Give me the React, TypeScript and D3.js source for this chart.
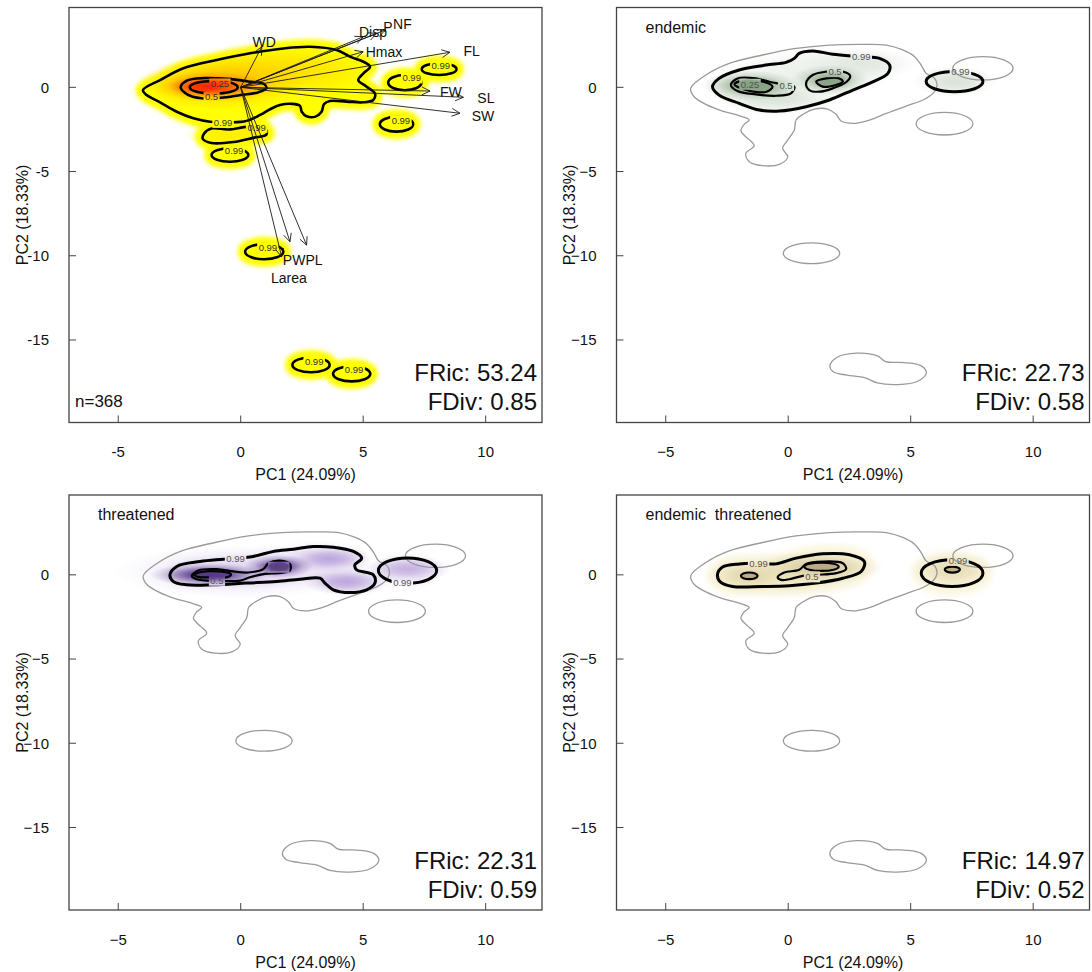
import React from "react";
import * as d3 from "d3";

type Pt = [number, number];

// ---------- axes / layout values ----------
const xTicks = [-5, 0, 5, 10];
const yTicks = [0, -5, -10, -15];
const xDomain: Pt = [-7.01, 12.3];
const yDomain: Pt = [-19.9, 4.74];

const panelNames = ["", "endemic", "threatened", "endemic  threatened"];
const fricValues = [53.24, 22.73, 22.31, 14.97];
const fdivValues = [0.85, 0.58, 0.59, 0.52];
const sampleSize = 368;

// ---------- PCA trait loadings (panel 1 biplot) ----------
const traitNames = ["WD", "Disp", "P", "NF", "Hmax", "FL", "FW", "SL", "SW", "PW", "PL", "Larea"];
const traitPC1 = [0.86, 5.0, 5.55, 5.9, 5.0, 8.54, 7.73, 9.09, 8.95, 2.01, 2.69, 1.67];
const traitPC2 = [2.41, 3.0, 3.2, 3.4, 2.11, 2.08, -0.22, -0.59, -1.54, -9.17, -9.37, -10.06];
const traitLabelPC1 = [0.96, 5.4, 6.01, 6.6, 5.85, 9.43, 8.58, 10.01, 9.89, 2.18, 2.99, 1.97];
const traitLabelPC2 = [2.69, 3.3, 3.55, 3.76, 2.1, 2.16, -0.28, -0.64, -1.7, -10.23, -10.26, -11.35];

// ---------- panel 1 (all species) contours ----------
const p1Main99: Pt[] = [[-3.99,-0.16],[-3.29,0.43],[-2.34,1.13],[-0.98,1.62],[0.38,2.02],[1.74,2.31],[2.83,2.41],[3.92,2.21],[4.46,1.82],[5.01,1.52],[5.28,1.23],[5.01,0.83],[4.8,0.43],[5.14,0.04],[5.48,-0.36],[5.41,-0.75],[5.01,-0.89],[4.33,-0.85],[3.64,-0.81],[3.4,-1.0],[3.3,-1.45],[3.05,-1.74],[2.69,-1.72],[2.49,-1.45],[2.42,-1.1],[2.1,-0.98],[1.6,-1.05],[1.2,-1.3],[0.79,-1.64],[0.24,-2.0],[-0.44,-2.08],[-1.25,-2.04],[-1.93,-1.84],[-2.61,-1.45],[-3.29,-0.89],[-3.84,-0.46]];
const p1BlobA99: Pt[] = [[-1.5,-2.75],[-1.2,-2.45],[-0.5,-2.5],[0.3,-2.35],[1.0,-2.45],[1.05,-2.8],[0.5,-3.0],[-0.3,-3.25],[-1.2,-3.3],[-1.55,-3.05]];
const p1Ellipses99 = [[8.1,1.08,0.71,0.35],[6.7,0.28,0.68,0.45],[6.36,-2.19,0.68,0.44],[-0.44,-4.02,0.75,0.4],[0.96,-9.76,0.78,0.45],[2.87,-16.48,0.76,0.44],[4.53,-17.01,0.76,0.45]];
const p1Core50: Pt[] = [[-2.45,0.0],[-2.2,0.4],[-1.5,0.55],[-0.5,0.5],[0.3,0.35],[0.95,0.2],[1.05,-0.05],[0.7,-0.3],[0,-0.45],[-0.8,-0.62],[-1.6,-0.65],[-2.2,-0.4]];
const p1Core25 = [-1.1, 0.0, 0.98, 0.38];
const p1LabelText = ["0.99","0.99","0.99","0.99","0.99","0.99","0.99","0.99","0.99","0.5","0.25"];
const p1LabelPC1 = [-0.72, 0.65, 8.17, 6.98, 6.54, -0.27, 1.11, 3.0, 4.63, -1.19, -0.85];
const p1LabelPC2 = [-2.08, -2.38, 1.3, 0.56, -1.98, -3.76, -9.52, -16.26, -16.78, -0.58, 0.2];
const p1Kernels = [[3.2,1.0,1.3,0.7,0.07],[1.3,1.0,1.9,0.8,0.2],[-0.3,-2.8,1.0,0.4,0.1],[-0.8,0.25,1.7,0.8,0.38],[-1.15,0.05,1.2,0.45,0.7],[-1.4,0.05,0.78,0.3,1.0]];
const heatColors = ["#ffff00", "#ffd400", "#ffa200", "#ff5e00", "#ff2200"];

// ---------- reference outline shared by panels 2-4 ----------
const grayMain: Pt[] = [[-3.98,-0.06],[-3.36,0.73],[-2.41,1.42],[-1.05,1.92],[0.32,2.31],[1.68,2.51],[3.04,2.55],[4.0,2.51],[4.68,2.22],[5.16,1.82],[5.43,1.32],[5.63,0.83],[5.98,0.53],[6.07,0.04],[5.91,-0.36],[5.5,-0.75],[4.82,-1.11],[4.0,-1.55],[3.32,-1.94],[2.64,-2.14],[2.16,-2.0],[1.95,-1.6],[1.61,-1.29],[1.07,-1.29],[0.66,-1.55],[0.32,-1.94],[0.25,-2.53],[-0.02,-3.13],[-0.23,-3.62],[-0.02,-4.12],[-0.36,-4.57],[-1.05,-4.65],[-1.59,-4.42],[-1.73,-3.92],[-1.39,-3.47],[-1.66,-3.03],[-1.93,-2.59],[-1.8,-2.2],[-1.59,-1.94],[-2.0,-1.68],[-2.68,-1.41],[-3.36,-1.01],[-3.84,-0.56]];
const grayBottom: Pt[] = [[1.7,-16.54],[1.98,-16.04],[2.81,-15.78],[3.64,-15.94],[3.98,-16.28],[4.74,-16.34],[5.43,-16.54],[5.64,-16.95],[5.29,-17.45],[4.47,-17.65],[3.64,-17.55],[3.15,-17.25],[2.39,-17.09],[1.84,-16.89]];
const grayEllipses = [[7.95,1.13,1.23,0.69],[6.38,-2.16,1.16,0.67],[0.95,-9.85,1.15,0.62]];

// ---------- panel 2 (endemic) ----------
const p2Main99: Pt[] = [[-3.09,0.04],[-2.82,0.53],[-2.0,1.03],[-0.91,1.32],[-0.09,1.48],[0.25,1.72],[0.45,2.02],[1.0,2.16],[1.82,1.96],[2.98,1.82],[3.73,1.72],[4.14,1.32],[4.07,0.83],[3.45,0.33],[2.64,-0.16],[1.68,-0.75],[0.73,-1.15],[-0.36,-1.41],[-1.18,-1.35],[-2.0,-0.95],[-2.82,-0.46]];
const p2Right99 = [6.79, 0.34, 1.16, 0.6];
const p2Left50: Pt[] = [[-2.34,0.14],[-2.07,0.53],[-1.32,0.53],[-0.77,0.33],[-0.23,0.18],[0.25,0.04],[0.11,-0.36],[-0.5,-0.5],[-1.32,-0.42],[-2.07,-0.22]];
const p2Left25: Pt[] = [[-2.2,0.18],[-1.8,0.43],[-1.11,0.37],[-0.64,0.04],[-0.88,-0.26],[-1.73,-0.16]];
const p2Mid50: Pt[] = [[0.73,0.24],[1.0,0.73],[1.55,0.93],[2.23,0.93],[2.53,0.69],[2.36,0.3],[1.82,-0.06],[1.27,-0.26],[0.86,-0.16]];
const p2Mid25: Pt[] = [[1.14,0.33],[1.55,0.53],[2.09,0.53],[2.23,0.33],[1.95,0.14],[1.41,0.04]];
const p2LabelText = ["0.99", "0.99", "0.25", "0.5", "0.5"];
const p2LabelPC1 = [2.98, 7.03, -1.56, -0.09, 1.91];
const p2LabelPC2 = [1.82, 0.92, 0.18, 0.12, 0.93];
const p2Kernels = [[0.5,0.9,1.6,0.7,0.1],[2.9,1.4,1.2,0.5,0.25],[6.8,0.35,0.9,0.45,0.3],[-0.5,-0.6,1.2,0.5,0.3],[1.7,0.45,0.8,0.45,0.8],[-1.5,0.1,1.0,0.45,0.9]];
const greenColors = ["#f6f8f5", "#e0e8de", "#bfcdbb", "#98b093", "#789772"];

// ---------- panel 3 (threatened) ----------
const p3Main99: Pt[] = [[-2.89,0.0],[-2.61,0.5],[-1.66,0.79],[-0.71,0.93],[0.51,1.09],[1.33,1.39],[2.15,1.52],[2.96,1.68],[3.78,1.64],[4.6,1.39],[4.94,0.99],[4.66,0.59],[4.73,0.3],[5.41,0.0],[5.48,-0.49],[5.14,-0.89],[4.46,-1.05],[3.78,-0.89],[3.44,-0.49],[3.24,-0.2],[2.42,-0.26],[1.47,-0.4],[0.24,-0.49],[-1.12,-0.59],[-2.21,-0.59],[-2.75,-0.4]];
const p3Right99 = [6.81, 0.25, 1.19, 0.75];
const p3Core50: Pt[] = [[-2.0,-0.06],[-1.73,0.26],[-0.98,0.34],[-0.3,0.2],[0.31,0.14],[0.92,0.34],[1.13,0.69],[1.6,0.85],[2.01,0.65],[2.01,0.26],[1.54,0.1],[0.99,0.06],[0.38,-0.14],[-0.03,-0.34],[-0.98,-0.36],[-1.8,-0.26]];
const p3Left25: Pt[] = [[-1.9,0.0],[-1.6,0.18],[-0.9,0.2],[-0.4,0.05],[-0.5,-0.12],[-1.2,-0.15],[-1.75,-0.12]];
const p3Mid25 = [1.55, 0.5, 0.4, 0.25];
const p3LabelText = ["0.99", "0.99", "0.5", "0.25"];
const p3LabelPC1 = [-0.21, 6.6, -0.97, 1.55];
const p3LabelPC2 = [0.93, -0.45, -0.32, 0.45];
const p3Kernels = [[0.0,0.2,2.6,0.8,0.2],[3.6,0.95,0.9,0.4,0.45],[4.3,-0.4,0.9,0.4,0.45],[6.8,0.35,0.9,0.4,0.4],[1.55,0.5,0.7,0.35,0.95],[-1.3,0.0,1.2,0.35,1.0]];
const purpleColors = ["#f5f1fa", "#ddd0ee", "#b49ad8", "#7d59b5", "#4b2a82"];

// ---------- panel 4 (endemic threatened) ----------
const p4Main99: Pt[] = [[-2.89,0.0],[-2.68,0.46],[-2.0,0.65],[-1.21,0.68],[-0.5,0.65],[0.32,0.99],[1.41,1.25],[2.5,1.19],[3.11,0.79],[2.98,0.2],[2.23,-0.2],[1.14,-0.49],[0.05,-0.65],[-1.05,-0.69],[-2.27,-0.69],[-2.75,-0.45]];
const p4Right99 = [6.69, 0.1, 1.26, 0.79];
const p4Mid50: Pt[] = [[-0.43,-0.14],[-0.16,0.14],[0.45,0.3],[0.73,0.65],[1.41,0.79],[2.23,0.69],[2.36,0.34],[1.96,0.1],[1.14,0.0],[0.59,-0.06],[0.05,-0.26],[-0.29,-0.3]];
const p4Inner = [[-1.59,-0.06,0.34,0.2],[1.36,0.48,0.7,0.25],[6.7,0.31,0.31,0.18]];
const p4LabelText = ["0.99", "0.99", "0.5"];
const p4LabelPC1 = [-1.21, 6.93, 0.97];
const p4LabelPC2 = [0.68, 0.86, -0.12];
const p4Kernels = [[0.0,0.0,1.8,0.7,0.3],[6.7,0.3,0.9,0.55,0.45],[-1.6,-0.05,0.9,0.5,0.5],[1.3,0.45,1.3,0.5,0.6]];
const beigeColors = ["#fbf8e6", "#f3ecca", "#e2d7ae", "#c9b993", "#a89674"];

// ---------- layout ----------
const W = 1092, H = 972;
const PW = 473, PH = 415;
const lefts = [69, 616.5, 69, 616.5];
const tops = [7.5, 7.5, 495, 495];
const FONT = "'Liberation Sans', Arial, Helvetica, sans-serif";

type Shape = { pts?: Pt[]; ell?: number[] };

function shapePath(s: Shape, xs: any, ys: any): string {
  if (s.pts) {
    const line = d3
      .line<Pt>()
      .x((p) => xs(p[0]))
      .y((p) => ys(p[1]))
      .curve(d3.curveCatmullRomClosed.alpha(0.5));
    return line(s.pts) || "";
  }
  const [cx, cy, rx, ry] = s.ell as number[];
  const X = xs(cx), Y = ys(cy);
  const RX = Math.abs(xs(cx + rx) - X), RY = Math.abs(ys(cy + ry) - Y);
  return `M${X - RX},${Y}A${RX},${RY} 0 1,0 ${X + RX},${Y}A${RX},${RY} 0 1,0 ${X - RX},${Y}Z`;
}

function labelWidth(t: string, fs: number) {
  let w = 0;
  for (const c of t) w += c === "." ? 0.278 : 0.556;
  return w * fs;
}

interface PanelSpec {
  outer: Shape[];
  inner: Shape[];
  innerFilled: Shape[];
  gray: Shape[];
  labels: { t: string; x: number; y: number }[];
  kernels: number[][];
  colors: string[];
  base: { fill: string; halo: number; blur: number; opacity: number };
  labelColor: string;
  outerWidth: number;
  innerWidth: number;
  innerFill: string;
}

function makeLabels(t: string[], x: number[], y: number[]) {
  return t.map((s, i) => ({ t: s, x: x[i], y: y[i] }));
}

const specs: PanelSpec[] = [
  {
    outer: [{ pts: p1Main99 }, { pts: p1BlobA99 }, ...p1Ellipses99.map((e) => ({ ell: e }))],
    inner: [{ pts: p1Core50 }, { ell: p1Core25 }],
    innerFilled: [],
    gray: [],
    labels: makeLabels(p1LabelText, p1LabelPC1, p1LabelPC2),
    kernels: p1Kernels,
    colors: heatColors,
    base: { fill: "#ffff00", halo: 15, blur: 2.2, opacity: 1 },
    labelColor: "#333",
    outerWidth: 2.6,
    innerWidth: 2.6,
    innerFill: "none",
  },
  {
    outer: [{ pts: p2Main99 }, { ell: p2Right99 }],
    inner: [{ pts: p2Left50 }, { pts: p2Mid50 }],
    innerFilled: [{ pts: p2Left25 }, { pts: p2Mid25 }],
    gray: [{ pts: grayMain }, { pts: grayBottom }, ...grayEllipses.map((e) => ({ ell: e }))],
    labels: makeLabels(p2LabelText, p2LabelPC1, p2LabelPC2),
    kernels: p2Kernels,
    colors: greenColors,
    base: { fill: "#f5f8f4", halo: 4, blur: 3, opacity: 1 },
    labelColor: "#555",
    outerWidth: 3,
    innerWidth: 2.2,
    innerFill: "#86a081",
  },
  {
    outer: [{ pts: p3Main99 }, { ell: p3Right99 }],
    inner: [{ pts: p3Core50 }],
    innerFilled: [{ pts: p3Left25 }, { ell: p3Mid25 }],
    gray: [{ pts: grayMain }, { pts: grayBottom }, ...grayEllipses.map((e) => ({ ell: e }))],
    labels: makeLabels(p3LabelText, p3LabelPC1, p3LabelPC2),
    kernels: p3Kernels,
    colors: purpleColors,
    base: { fill: "#f4f0f9", halo: 5, blur: 3, opacity: 1 },
    labelColor: "#555",
    outerWidth: 3,
    innerWidth: 2.2,
    innerFill: "#5a3a8e",
  },
  {
    outer: [{ pts: p4Main99 }, { ell: p4Right99 }],
    inner: [{ pts: p4Mid50 }],
    innerFilled: p4Inner.map((e) => ({ ell: e })),
    gray: [{ pts: grayMain }, { pts: grayBottom }, ...grayEllipses.map((e) => ({ ell: e }))],
    labels: makeLabels(p4LabelText, p4LabelPC1, p4LabelPC2),
    kernels: p4Kernels,
    colors: beigeColors,
    base: { fill: "#f9f4da", halo: 16, blur: 4, opacity: 1 },
    labelColor: "#555",
    outerWidth: 3,
    innerWidth: 2.2,
    innerFill: "#b09e80",
  },
];

function Panel({ i }: { i: number }) {
  const spec = specs[i];
  const x0 = lefts[i], y0 = tops[i];
  const xs = d3.scaleLinear().domain(xDomain).range([x0, x0 + PW]);
  const ys = d3.scaleLinear().domain(yDomain).range([y0 + PH, y0]);
  const color = d3.scaleLinear<string>().domain(d3.range(spec.colors.length).map((k) => k / (spec.colors.length - 1))).range(spec.colors);
  const minus = i === 0 ? "-" : "\u2212";
  const fmt = (v: number) => (v < 0 ? minus + Math.abs(v) : String(v));
  const lfs = 9.5;
  const kernels = [...spec.kernels].sort((a, b) => a[4] - b[4]);

  return (
    <g>
      <defs>
        <clipPath id={`clip${i}`}>
          <rect x={x0} y={y0} width={PW} height={PH} />
        </clipPath>
        <filter id={`blur${i}`} x="-30%" y="-30%" width="160%" height="160%">
          <feGaussianBlur stdDeviation={spec.base.blur} />
        </filter>
        {kernels.map((k, j) => (
          <radialGradient key={j} id={`kg${i}_${j}`}>
            <stop offset="0" stopColor={color(k[4])} stopOpacity={1} />
            <stop offset="0.35" stopColor={color(k[4])} stopOpacity={0.75} />
            <stop offset="0.7" stopColor={color(k[4])} stopOpacity={0.25} />
            <stop offset="1" stopColor={color(k[4])} stopOpacity={0} />
          </radialGradient>
        ))}
        <mask id={`mask${i}`} maskUnits="userSpaceOnUse" x={0} y={0} width={W} height={H}>
          <rect x={0} y={0} width={W} height={H} fill="white" />
          {spec.labels.map((l, j) => {
            const w = labelWidth(l.t, lfs) + 3;
            return <rect key={j} x={xs(l.x) - w / 2} y={ys(l.y) - 5.5} width={w} height={11} fill="black" />;
          })}
        </mask>
      </defs>

      <g clipPath={`url(#clip${i})`}>
        <g filter={`url(#blur${i})`} opacity={spec.base.opacity}>
          {spec.outer.map((s, j) => (
            <path key={j} d={shapePath(s, xs, ys)} fill={spec.base.fill} stroke={spec.base.fill} strokeWidth={spec.base.halo} strokeLinejoin="round" />
          ))}
        </g>
        {kernels.map((k, j) => {
          const cx = xs(k[0]), cy = ys(k[1]);
          const rx = (xs(k[0] + k[2]) - cx) * 2;
          const ry = (cy - ys(k[1] + k[3])) * 2;
          return <ellipse key={j} cx={cx} cy={cy} rx={rx} ry={ry} fill={`url(#kg${i}_${j})`} />;
        })}
        {spec.innerFilled.map((s, j) => (
          <path key={j} d={shapePath(s, xs, ys)} fill={spec.innerFill} fillOpacity={0.75} stroke="none" />
        ))}
        {spec.gray.map((s, j) => (
          <path key={j} d={shapePath(s, xs, ys)} fill="none" stroke="#9a9a9a" strokeWidth={1.3} />
        ))}
        <g mask={`url(#mask${i})`}>
          {spec.outer.map((s, j) => (
            <path key={j} d={shapePath(s, xs, ys)} fill="none" stroke="#000" strokeWidth={spec.outerWidth} />
          ))}
          {spec.inner.map((s, j) => (
            <path key={j} d={shapePath(s, xs, ys)} fill="none" stroke="#000" strokeWidth={spec.innerWidth} />
          ))}
          {spec.innerFilled.map((s, j) => (
            <path key={j} d={shapePath(s, xs, ys)} fill="none" stroke="#000" strokeWidth={spec.innerWidth} />
          ))}
        </g>
        {spec.labels.map((l, j) => (
          <text key={j} x={xs(l.x)} y={ys(l.y)} dy="0.35em" textAnchor="middle" fontSize={lfs} fontFamily={FONT} fill={spec.labelColor}>
            {l.t}
          </text>
        ))}
        {i === 0 &&
          traitNames.map((n, j) => {
            const ox = xs(0), oy = ys(0);
            const tx = xs(traitPC1[j]), ty = ys(traitPC2[j]);
            const ang = Math.atan2(ty - oy, tx - ox);
            const L = 9, a = Math.PI / 7;
            const h1 = [tx - L * Math.cos(ang - a), ty - L * Math.sin(ang - a)];
            const h2 = [tx - L * Math.cos(ang + a), ty - L * Math.sin(ang + a)];
            return (
              <g key={n}>
                <line x1={ox} y1={oy} x2={tx} y2={ty} stroke="#1a1a1a" strokeWidth={0.9} />
                <path d={`M${h1[0]},${h1[1]}L${tx},${ty}L${h2[0]},${h2[1]}`} fill="none" stroke="#1a1a1a" strokeWidth={0.9} />
                <text x={xs(traitLabelPC1[j])} y={ys(traitLabelPC2[j])} dy="0.35em" textAnchor="middle" fontSize={14} fontFamily={FONT} fill="#111">
                  {n}
                </text>
              </g>
            );
          })}
      </g>

      <rect x={x0} y={y0} width={PW} height={PH} fill="none" stroke="#444" strokeWidth={1.3} />
      {xTicks.map((t) => (
        <g key={t}>
          <line x1={xs(t)} x2={xs(t)} y1={y0 + PH} y2={y0 + PH - 7} stroke="#444" strokeWidth={1} />
          <text x={xs(t)} y={y0 + PH + 34.5} textAnchor="middle" fontSize={15} fontFamily={FONT} fill="#111">
            {fmt(t)}
          </text>
        </g>
      ))}
      {yTicks.map((t) => (
        <g key={t}>
          <line x1={x0} x2={x0 + 7} y1={ys(t)} y2={ys(t)} stroke="#444" strokeWidth={1} />
          <text x={x0 - 20} y={ys(t)} dy="0.35em" textAnchor="end" fontSize={15} fontFamily={FONT} fill="#111">
            {fmt(t)}
          </text>
        </g>
      ))}
      <text x={x0 + PW / 2} y={y0 + PH + 57.5} textAnchor="middle" fontSize={16} fontFamily={FONT} fill="#111">
        PC1 (24.09%)
      </text>
      <text transform={`translate(${x0 - 47},${y0 + PH / 2}) rotate(-90)`} dy="0.35em" textAnchor="middle" fontSize={16} fontFamily={FONT} fill="#111">
        PC2 (18.33%)
      </text>
      {panelNames[i] && (
        <text x={x0 + 29} y={y0 + 25} fontSize={16} fontFamily={FONT} fill="#111" style={{ whiteSpace: "pre" }}>
          {panelNames[i]}
        </text>
      )}
      {i === 0 && (
        <text x={x0 + 6} y={y0 + PH - 15.5} fontSize={17} fontFamily={FONT} fill="#111">
          {`n=${sampleSize}`}
        </text>
      )}
      <text x={x0 + PW - 5} y={y0 + PH - 41.5} textAnchor="end" fontSize={24} fontFamily={FONT} fill="#111">
        {`FRic: ${fricValues[i].toFixed(2)}`}
      </text>
      <text x={x0 + PW - 5} y={y0 + PH - 12.5} textAnchor="end" fontSize={24} fontFamily={FONT} fill="#111">
        {`FDiv: ${fdivValues[i].toFixed(2)}`}
      </text>
    </g>
  );
}

export default function App() {
  return (
    <svg width={W} height={H} style={{ position: "absolute", left: 0, top: 0, display: "block", background: "#fff" }}>
      <rect x={0} y={0} width={W} height={H} fill="#fff" />
      {[0, 1, 2, 3].map((i) => (
        <Panel key={i} i={i} />
      ))}
    </svg>
  );
}
